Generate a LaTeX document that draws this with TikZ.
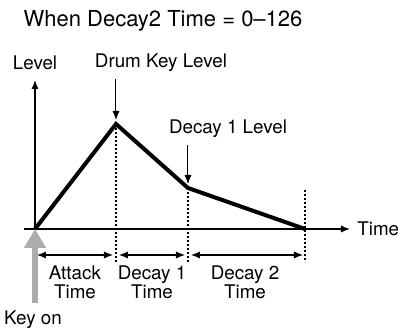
\documentclass[tikz,border=0pt]{standalone}
\usepackage{fontspec}
\setmainfont{TeX Gyre Heros}
\usepackage{xcolor}
\usetikzlibrary{arrows.meta,positioning}

\begin{document}
\begin{tikzpicture}[x=0.5pt, y=-0.5pt, lbl/.style={font=\fontsize{9.4}{9.6}\selectfont, inner sep=0pt, align=center}, axis/.style={line width=0.65pt,-{Latex[length=4.5pt,width=3.6pt]}}, arr/.style={line width=0.5pt,-{Latex[length=4.5pt,width=3.6pt]}}, span/.style={line width=0.55pt,{Latex[length=4.5pt,width=3.6pt]}-{Latex[length=4.5pt,width=3.6pt]}}, guide/.style={line width=0.7pt, dash pattern=on 0.8pt off 1.2pt}, env/.style={line width=2pt, line join=miter}]
\useasboundingbox (0,0) rectangle (398,331);
\node[font=\fontsize{11}{12}\selectfont, inner sep=0pt] (title) at (163,21) {When Decay2 Time = 0--126};
% axes
\coordinate (o) at (35,229);
\coordinate (ytop) at (35,80);
\coordinate (xl) at (24,229);
\coordinate (xtip) at (350,229);
\draw[axis] (o) -- (ytop);
\draw[axis] (xl) -- (xtip);
\node[lbl] (level) at (35,63) {Level};
\node[lbl, anchor=west] (time) at (357,229) {Time};
% envelope
\coordinate (peak) at (116,124);
\coordinate (dec1) at (188,188);
\coordinate (fin) at (305,229);
\draw[env] (o) -- (peak) -- (dec1) -- (fin);
\node[lbl] (dkl) at (161,63) {Drum Key Level};
\node[lbl] (d1l) at (228,129) {Decay 1 Level};
\draw[arr] ([yshift=-3.5pt]dkl.south -| peak) -- ([yshift=2pt]peak);
\draw[arr] ([yshift=-3.5pt]d1l.south -| dec1) -- ([yshift=2pt]dec1);
% time spans
\coordinate (b1) at (116,262);
\coordinate (b2) at (188,262);
\coordinate (b3) at (305,262);
\coordinate (t3) at (305,190);
\draw[guide] (peak) -- (b1);
\draw[guide] (dec1) -- (b2);
\draw[guide] (t3) -- (b3);
\coordinate (s0) at (37,255);
\coordinate (s1) at (116,255);
\coordinate (s2) at (188,255);
\coordinate (s3) at (305,255);
\draw[span] (s0) -- ([xshift=-1.5pt]s1);
\draw[span] ([xshift=1.5pt]s1) -- ([xshift=-1.5pt]s2);
\draw[span] ([xshift=1.5pt]s2) -- ([xshift=-1pt]s3);
\node[lbl] (att) at (75,282) {Attack\\Time};
\node[lbl] (d1t) at (152,282) {Decay 1\\Time};
\node[lbl] (d2t) at (245,282) {Decay 2\\Time};
% key on
\node[lbl] (keyon) at (33,320) {Key on};
\draw[line width=3pt, gray!65, -{Triangle[length=9.5pt,width=10.5pt]}] (keyon.north -| o) ++(0,4pt) -- (o);
\end{tikzpicture}
\end{document}
